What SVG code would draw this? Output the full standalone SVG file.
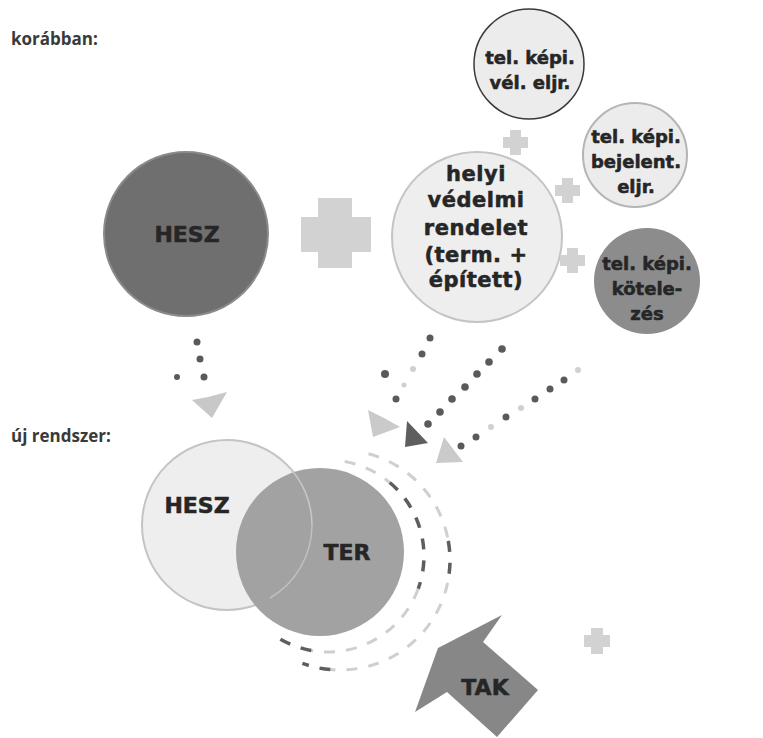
<svg xmlns="http://www.w3.org/2000/svg" width="763" height="738" viewBox="0 0 763 738">
<style>
.hdr{font-family:"Open Sans","DejaVu Sans",sans-serif;font-weight:700;font-size:17px;fill:#3a3a3a}
.lbl{font-family:"DejaVu Sans","Liberation Sans",sans-serif;font-weight:700;fill:#262626;stroke:#262626;stroke-width:0.55;stroke-linejoin:round;text-anchor:middle}
.big{font-size:22px}
.mid{font-size:21px;letter-spacing:0.5px}
.sm{font-size:18px}
.plus{fill:#d2d2d2}
.dot{fill:#5a5a5a}
.ldot{fill:#d0d0d0}
.light{fill:#eeeeee;stroke:#c4c4c4;stroke-width:2}
.dl{fill:none;stroke:#cfcfcf;stroke-width:3;stroke-dasharray:11 11}
.dd{fill:none;stroke:#5e5e5e;stroke-width:3.5;stroke-dasharray:11 11}
</style>
<rect width="763" height="738" fill="#ffffff"/>

<text class="hdr" x="11" y="45">korábban:</text>
<text class="hdr" x="11" y="442">új rendszer:</text>

<g id="hesz-old">
<circle cx="186" cy="234" r="82" fill="#6f6f6f" stroke="#8a8a8a" stroke-width="2"/>
<text class="lbl big" x="187" y="242">HESZ</text>
</g>

<g id="plus-big">
<rect class="plus" x="318" y="198" width="34" height="70"/>
<rect class="plus" x="301" y="217" width="70" height="35"/>
</g>

<g id="helyi">
<circle class="light" cx="477" cy="237" r="85" stroke="#b8b8b8"/>
<text class="lbl mid" x="476" y="181">helyi</text>
<text class="lbl mid" x="476" y="207">védelmi</text>
<text class="lbl mid" x="476" y="235">rendelet</text>
<text class="lbl mid" x="476" y="262">(term. +</text>
<text class="lbl mid" x="476" y="287">épített)</text>
</g>

<g id="tel-vel">
<circle cx="529" cy="64" r="55" fill="#ececec" stroke="#3a3a3a" stroke-width="1.5"/>
<text class="lbl sm" x="530" y="64">tel. képi.</text>
<text class="lbl sm" x="530" y="89">vél. eljr.</text>
</g>

<g id="tel-bej">
<circle cx="635" cy="155" r="52" fill="#ececec" stroke="#b5b5b5" stroke-width="2"/>
<text class="lbl sm" x="636" y="143">tel. képi.</text>
<text class="lbl sm" x="636" y="168">bejelent.</text>
<text class="lbl sm" x="636" y="193">eljr.</text>
</g>

<g id="tel-kot">
<circle cx="647" cy="281" r="53" fill="#8c8c8c"/>
<text class="lbl sm" x="647" y="270">tel. képi.</text>
<text class="lbl sm" x="647" y="295">kötele-</text>
<text class="lbl sm" x="647" y="320">zés</text>
</g>

<g id="small-plus">
<path class="plus" d="M510,130h11v7h7v11h-7v7h-11v-7h-7v-11h7z"/>
<path class="plus" d="M562,178h11v7h7v11h-7v7h-11v-7h-7v-11h7z"/>
<path class="plus" d="M567,248h11v7h7v11h-7v7h-11v-7h-7v-11h7z"/>
<path class="plus" d="M591,628h12v7h7v12h-7v7h-12v-7h-7v-12h7z"/>
</g>

<g id="connectors">
<circle class="dot" cx="197" cy="342" r="3.5"/>
<circle class="dot" cx="200" cy="359" r="3.5"/>
<circle class="dot" cx="204" cy="377" r="3.5"/>
<circle class="dot" cx="177" cy="377" r="3"/>
<polygon fill="#c8c8c8" points="192,400 208,397 227,392 212,418"/>

<circle class="dot" cx="430" cy="338" r="3.5"/>
<circle class="dot" cx="422" cy="354" r="3.5"/>
<circle class="ldot" cx="413" cy="369" r="3"/>
<circle class="ldot" cx="404" cy="385" r="2.5"/>
<circle class="dot" cx="396" cy="399" r="3.5"/>
<circle class="dot" cx="385" cy="374" r="4"/>
<polygon fill="#cacaca" points="368,410 384,418 400,427 373,437"/>

<circle class="dot" cx="502" cy="349" r="3.8"/>
<circle class="dot" cx="489" cy="362" r="3.8"/>
<circle class="dot" cx="477" cy="374" r="3.8"/>
<circle class="dot" cx="465" cy="387" r="3.8"/>
<circle class="dot" cx="452" cy="399" r="3.8"/>
<circle class="dot" cx="440" cy="412" r="3.8"/>
<circle class="dot" cx="428" cy="424" r="3.8"/>
<polygon fill="#5e5e5e" points="407,421 428,443 405,447"/>

<circle class="ldot" cx="578" cy="370" r="3"/>
<circle class="dot" cx="564" cy="380" r="3.5"/>
<circle class="dot" cx="550" cy="389" r="3.5"/>
<circle class="dot" cx="535" cy="399" r="3.5"/>
<circle class="ldot" cx="521" cy="408" r="3"/>
<circle class="dot" cx="506" cy="417" r="3.5"/>
<circle class="ldot" cx="491" cy="427" r="3"/>
<circle class="dot" cx="476" cy="437" r="3.5"/>
<circle class="dot" cx="461" cy="446" r="3.5"/>
<polygon fill="#cacaca" points="444,437 463,462 436,463"/>
</g>

<g id="cycle">
<path class="dl" d="M344.7,461.5 A96,96 0 0 1 389.7,482.5"/>
<path class="dd" d="M389.7,482.5 A96,96 0 0 1 418.2,588.8"/>
<path class="dl" d="M418.2,588.8 A96,96 0 0 1 311.3,650.5"/>
<path class="dd" d="M311.3,650.5 A96,96 0 0 1 280,639"/>
<path class="dl" d="M368.5,453.7 A110,110 0 0 1 448.3,540.9"/>
<path class="dd" d="M448.3,540.9 A110,110 0 0 1 447.6,582.9"/>
<path class="dl" d="M447.6,582.9 A110,110 0 0 1 330.4,669.6"/>
<path class="dd" d="M330.4,669.6 A110,110 0 0 1 302.4,663.4"/>
</g>

<g id="hesz-new">
<circle class="light" cx="227" cy="525" r="85"/>
<text class="lbl big" x="197" y="513">HESZ</text>
</g>

<g id="ter">
<circle cx="320" cy="552" r="84" fill="#a2a2a2"/>
<path d="M312,525 A85,85 0 0 0 286,464" fill="none" stroke="#c8c8c8" stroke-width="1.5"/>
<path d="M312,525 A85,85 0 0 1 270,598" fill="none" stroke="#c0c0c0" stroke-width="1.5"/>
<text class="lbl big" x="347" y="560">TER</text>
</g>

<g id="tak">
<polygon fill="#878787" points="438,648 502,615 483,642 538,690 497,737 447,692 415,712"/>
<text class="lbl big" x="485" y="695">TAK</text>
</g>
</svg>
